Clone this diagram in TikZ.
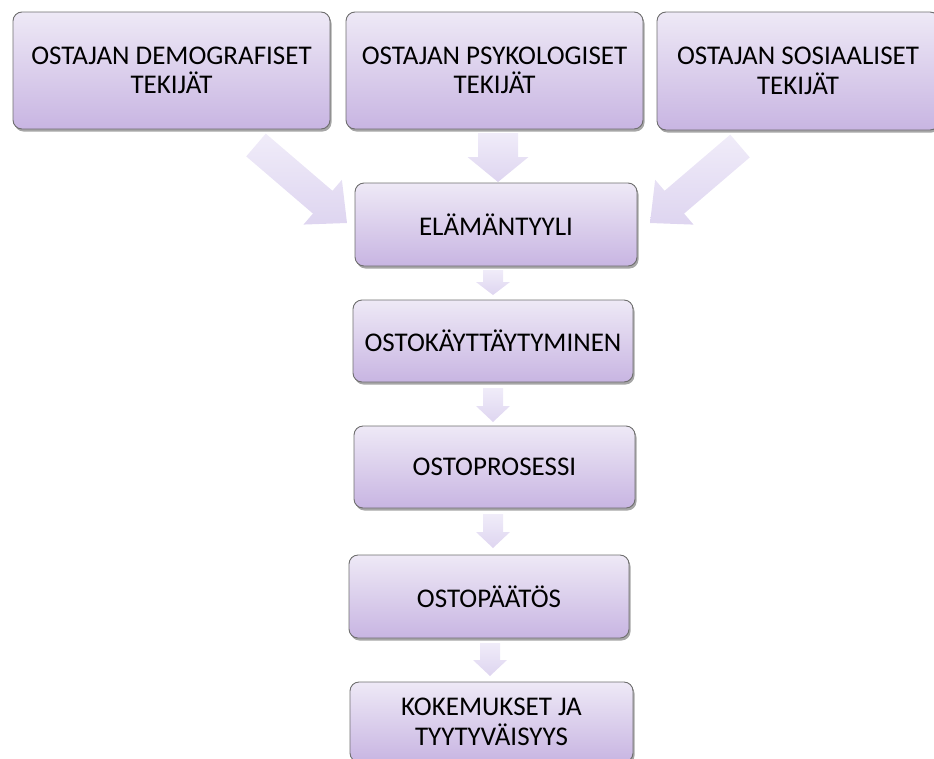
\documentclass[tikz,border=0pt]{standalone}
\usepackage{fontspec}
\setmainfont{Carlito}
\usetikzlibrary{shadows,calc}
\definecolor{boxtop}{HTML}{EEE9F6}
\definecolor{boxbot}{HTML}{C8B5E2}
\definecolor{boxline}{HTML}{6E6E6E}
\definecolor{arrtop}{HTML}{F0ECF9}
\definecolor{arrbot}{HTML}{DED5F0}
\tikzset{
  box/.style={rounded corners=9pt, draw=boxline, line width=0.9pt,
    top color=boxtop, bottom color=boxbot, align=center, text=black,
    font=\fontsize{27}{29.5}\selectfont, inner sep=0pt,
    drop shadow={shadow xshift=1.5pt, shadow yshift=-2.5pt, opacity=0.35, fill=black}},
  blockarrow/.style={top color=arrtop, bottom color=arrbot, draw=none},
}
% #1 tail, #2 tip, #3 shaft half width, #4 head half width, #5 head length
\newcommand\blockarr[5]{%
  \pgfpointdiff{\pgfpointanchor{#1}{center}}{\pgfpointanchor{#2}{center}}%
  \pgfgetlastxy\ddx\ddy
  \pgfmathsetmacro\arrang{atan2(\ddy,\ddx)}%
  \pgfmathsetmacro\arrlen{veclen(\ddx,\ddy)}%
  \begin{scope}[shift={(#1)}, rotate=\arrang]
    \path[blockarrow] (0,-#3) -- (\arrlen-#5,-#3) -- (\arrlen-#5,-#4) -- (\arrlen,0)
      -- (\arrlen-#5,#4) -- (\arrlen-#5,#3) -- (0,#3) -- cycle;
  \end{scope}}
\begin{document}
\begin{tikzpicture}[x=1pt, y=-1pt]
\path[use as bounding box] (0,0) rectangle (934,758);
\clip (0,0) rectangle (934,758);

% arrow end points
\coordinate (la) at (256,145);  \coordinate (lb) at (347,223);
\coordinate (ma) at (498,133);  \coordinate (mb) at (498,182);
\coordinate (ra) at (740,146);  \coordinate (rb) at (650,223);
\coordinate (s1a) at (493,270); \coordinate (s1b) at (493,295);
\coordinate (s2a) at (493,388); \coordinate (s2b) at (493,422);
\coordinate (s3a) at (493,514); \coordinate (s3b) at (493,548);
\coordinate (s4a) at (490,643); \coordinate (s4b) at (490,676);

\blockarr{la}{lb}{15}{29.5}{32}
\blockarr{ra}{rb}{15}{29.5}{32}
\blockarr{ma}{mb}{20}{30.5}{25}
\blockarr{s1a}{s1b}{10}{17}{13}
\blockarr{s2a}{s2b}{10}{17}{16}
\blockarr{s3a}{s3b}{10}{17}{16}
\blockarr{s4a}{s4b}{10}{17}{16}

\node[box, minimum width=317pt, minimum height=117pt] (d) at (171.5,70.5) {OSTAJAN DEMOGRAFISET\\TEKIJÄT};
\node[box, minimum width=297pt, minimum height=117pt] (p) at (494.5,70.5) {OSTAJAN PSYKOLOGISET\\TEKIJÄT};
\node[box, minimum width=282pt, minimum height=118pt] (s) at (798,71) {OSTAJAN SOSIAALISET\\TEKIJÄT};
\node[box, minimum width=282pt, minimum height=83pt] (e) at (496,224.5) {ELÄMÄNTYYLI};
\node[box, minimum width=280pt, minimum height=82pt] (k) at (493,341) {OSTOKÄYTTÄYTYMINEN};
\node[box, minimum width=281pt, minimum height=82pt] (r) at (494.5,467) {OSTOPROSESSI};
\node[box, minimum width=280pt, minimum height=83pt] (t) at (489,596.5) {OSTOPÄÄTÖS};
\node[box, minimum width=283pt, minimum height=80pt] (m) at (491.5,722) {KOKEMUKSET JA\\TYYTYVÄISYYS};
\end{tikzpicture}
\end{document}
